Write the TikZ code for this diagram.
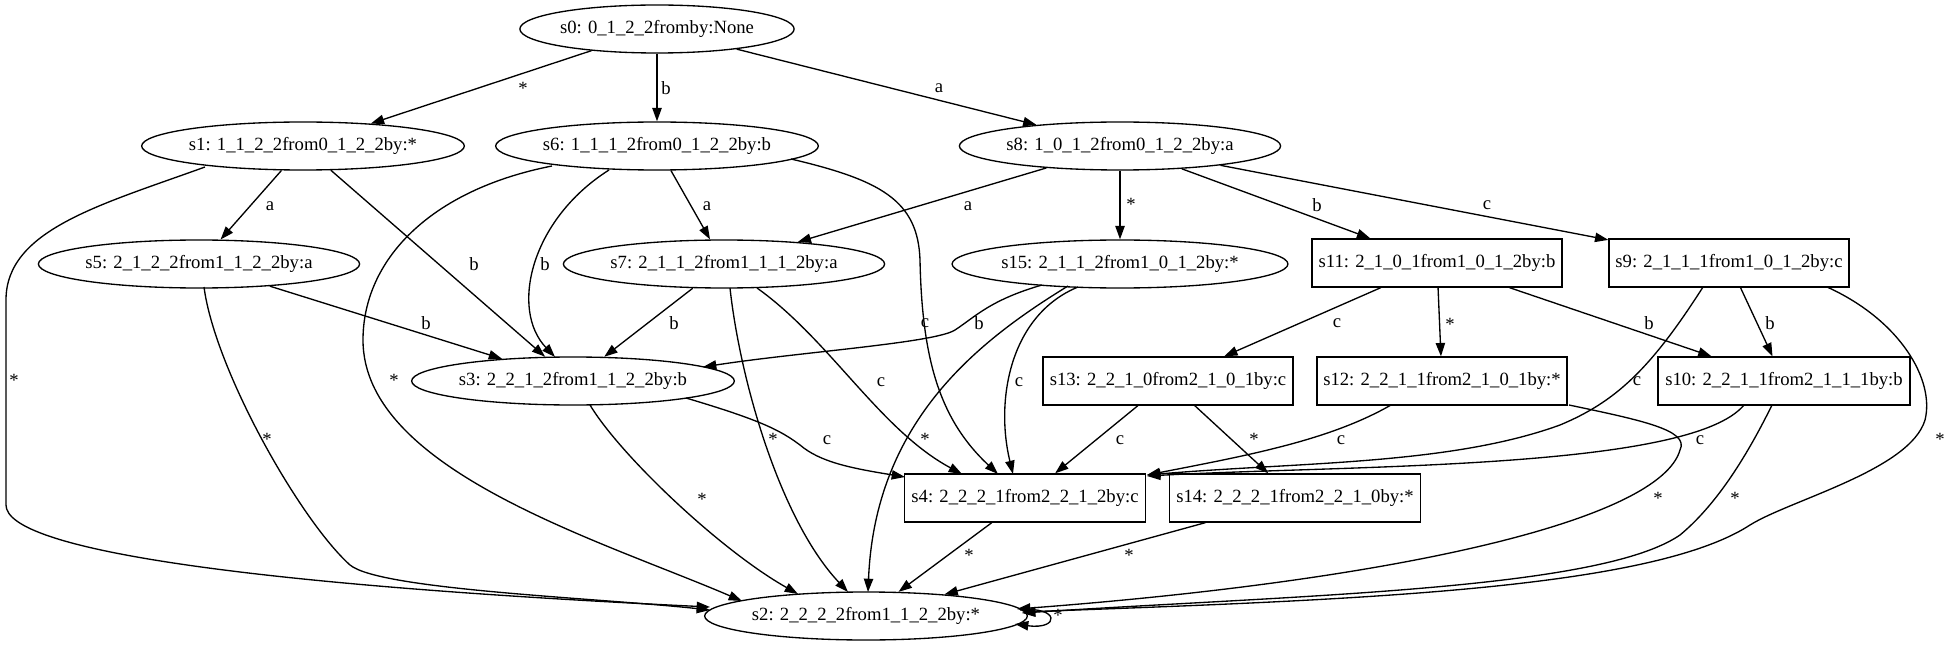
\documentclass[tikz,border=0pt]{standalone}
\usepackage{fontspec}
\setmainfont{Liberation Serif}
\usetikzlibrary{shapes.geometric,arrows.meta}
\begin{document}
\begin{tikzpicture}[x=0.75pt,y=-0.75pt,
  every node/.style={font=\fontsize{14pt}{16pt}\selectfont},
  ell/.style={draw,ellipse,inner sep=0pt,minimum height=36pt,minimum width=235.5pt,line width=1pt},
  box/.style={draw,rectangle,inner sep=0pt,minimum height=36pt,minimum width=187.5pt,line width=1pt},
  edge/.style={line width=1pt,-{Triangle[length=10pt,width=7pt]}},
  lbl/.style={inner sep=0pt},
  lst/.style={inner sep=0pt,yshift=-2pt}]
\useasboundingbox (0,0) rectangle (1955,645);
% nodes
\node[ell,minimum width=204pt] (s0) at (657,29) {s0: 0\_1\_2\_2fromby:None};
\node[ell] (s1) at (303,146) {s1: 1\_1\_2\_2from0\_1\_2\_2by:*};
\node[ell] (s6) at (657,146) {s6: 1\_1\_1\_2from0\_1\_2\_2by:b};
\node[ell] (s8) at (1120,146) {s8: 1\_0\_1\_2from0\_1\_2\_2by:a};
\node[ell] (s5) at (199,264) {s5: 2\_1\_2\_2from1\_1\_2\_2by:a};
\node[ell] (s7) at (724,264) {s7: 2\_1\_1\_2from1\_1\_1\_2by:a};
\node[ell,minimum width=244.5pt] (s15) at (1120,264) {s15: 2\_1\_1\_2from1\_0\_1\_2by:*};
\node[box] (s11) at (1437,263) {s11: 2\_1\_0\_1from1\_0\_1\_2by:b};
\node[box,minimum width=180pt] (s9) at (1729,263) {s9: 2\_1\_1\_1from1\_0\_1\_2by:c};
\node[ell] (s3) at (573,381) {s3: 2\_2\_1\_2from1\_1\_2\_2by:b};
\node[box] (s13) at (1168,381) {s13: 2\_2\_1\_0from2\_1\_0\_1by:c};
\node[box] (s12) at (1442,381) {s12: 2\_2\_1\_1from2\_1\_0\_1by:*};
\node[box,minimum width=189pt] (s10) at (1784,381) {s10: 2\_2\_1\_1from2\_1\_1\_1by:b};
\node[box,minimum width=180.75pt] (s4) at (1025,498) {s4: 2\_2\_2\_1from2\_2\_1\_2by:c};
\node[box,minimum width=188.25pt] (s14) at (1295,498) {s14: 2\_2\_2\_1from2\_2\_1\_0by:*};
\node[ell] (s2) at (866,616) {s2: 2\_2\_2\_2from1\_1\_2\_2by:*};
% straight edges
\draw[edge] (s0) -- (s1);
\draw[edge] (s0) -- (s6);
\draw[edge] (s0) -- (s8);
\draw[edge] (s1) -- (s5);
\draw[edge] (s1) -- (s3);
\draw[edge] (s6) -- (s7);
\draw[edge] (s8) -- (s7);
\draw[edge] (s8) -- (s15);
\draw[edge] (s8) -- (s11);
\draw[edge] (s8) -- (s9);
\draw[edge] (s5) -- (s3);
\draw[edge] (s7) -- (s3);
\draw[edge] (s11) -- (s13);
\draw[edge] (s11) -- (s12);
\draw[edge] (s11) -- (s10);
\draw[edge] (s9) -- (s10);
\draw[edge] (s13) -- (s4);
\draw[edge] (s13) -- (s14);
\draw[edge] (s4) -- (s2);
\draw[edge] (s14) -- (s2);
% curved edges
\draw[edge] ([shift={(6,24)}]s7.center) .. controls (740,380) and (780,520) .. ([shift={(-18,-24)}]s2.center);
\draw[edge] ([shift={(-98,21)}]s1.center) .. controls (100,205) and (6,230) .. (6,300) -- (6,505) .. controls (6,550) and (250,585) .. ([shift={(-156,-9)}]s2.center);
\draw[edge] ([shift={(-48,24)}]s6.center) .. controls (530,220) and (510,310) .. ([shift={(-18,-24)}]s3.center);
\draw[edge] ([shift={(-105,20)}]s6.center) .. controls (430,190) and (363,260) .. (363,340) .. controls (363,470) and (600,540) .. ([shift={(-124,-15)}]s2.center);
\draw[edge] ([shift={(134,13)}]s6.center) .. controls (880,180) and (918,200) .. (920,260) .. controls (922,360) and (940,420) .. ([shift={(-27,-24)}]s4.center);
\draw[edge] ([shift={(5,23)}]s5.center) .. controls (215,370) and (300,520) .. (350,565) .. controls (380,590) and (600,598) .. ([shift={(-156,-6)}]s2.center);
\draw[edge] ([shift={(33,24)}]s7.center) .. controls (830,340) and (880,430) .. ([shift={(-63,-24)}]s4.center);
\draw[edge] ([shift={(-78,21)}]s15.center) .. controls (990,300) and (975,317) .. (955,330) .. controls (935,343) and (800,352) .. ([shift={(130,-14)}]s3.center);
\draw[edge] ([shift={(-52,22)}]s15.center) .. controls (980,340) and (875,420) .. ([shift={(2,-24)}]s2.center);
\draw[edge] ([shift={(-42,23)}]s15.center) .. controls (1010,315) and (995,400) .. ([shift={(-12,-24)}]s4.center);
\draw[edge] ([shift={(113,17)}]s3.center) .. controls (760,420) and (780,430) .. (800,445) .. controls (820,462) and (850,468) .. ([shift={(-120,-21)}]s4.center);
\draw[edge] ([shift={(17,24)}]s3.center) .. controls (620,455) and (720,550) .. ([shift={(-68,-22)}]s2.center);
\draw[edge] ([shift={(-26,24)}]s9.center) .. controls (1650,370) and (1615,402) .. (1560,425) .. controls (1450,465) and (1300,462) .. ([shift={(122,-23)}]s4.center);
\draw[edge] ([shift={(-51,24)}]s12.center) .. controls (1330,440) and (1250,455) .. ([shift={(122,-23)}]s4.center);
\draw[edge] ([shift={(-40,24)}]s10.center) .. controls (1690,470) and (1350,465) .. ([shift={(122,-22)}]s4.center);
\draw[edge] ([shift={(127,24)}]s12.center) .. controls (1640,420) and (1690,430) .. (1680,450) .. controls (1660,520) and (1400,580) .. ([shift={(151,-7)}]s2.center);
\draw[edge] ([shift={(-12,24)}]s10.center) .. controls (1740,470) and (1710,510) .. (1680,535) .. controls (1600,590) and (1300,595) .. ([shift={(156,-3)}]s2.center);
\draw[edge] ([shift={(98,24)}]s9.center) .. controls (1900,320) and (1935,380) .. (1925,420) .. controls (1910,470) and (1790,500) .. (1750,525) .. controls (1650,590) and (1350,600) .. ([shift={(156,-4)}]s2.center);
\draw[edge] ([shift={(154,-6)}]s2.center) .. controls (1060,606) and (1060,630) .. ([shift={(149,8)}]s2.center);
% edge labels
\node[lst] (l01) at (523,86) {*};
\node[lbl] (l06) at (666,88) {b};
\node[lbl] (l08) at (939,88) {a};
\node[lbl] (l15) at (270,206) {a};
\node[lbl] (l13) at (474,264) {b};
\node[lst] (l12) at (14,378) {*};
\node[lbl] (l67) at (707,206) {a};
\node[lbl] (l63) at (545,264) {b};
\node[lst] (l62) at (394,378) {*};
\node[lbl] (l64) at (925,323) {c};
\node[lbl] (l87) at (968,206) {a};
\node[lst] (l815) at (1131,202) {*};
\node[lbl] (l811) at (1317,205) {b};
\node[lbl] (l89) at (1487,205) {c};
\node[lbl] (l53) at (426,323) {b};
\node[lst] (l52) at (267,437) {*};
\node[lbl] (l73) at (674,323) {b};
\node[lst] (l72) at (773,437) {*};
\node[lbl] (l74) at (881,382) {c};
\node[lbl] (l153) at (979,323) {b};
\node[lst] (l152) at (925,437) {*};
\node[lbl] (l154) at (1019,382) {c};
\node[lbl] (l34) at (827,440) {c};
\node[lst] (l32) at (702,497) {*};
\node[lst] (l42) at (969,553) {*};
\node[lst] (l142) at (1129,553) {*};
\node[lbl] (l1113) at (1337,323) {c};
\node[lst] (l1112) at (1450,322) {*};
\node[lbl] (l1110) at (1649,323) {b};
\node[lbl] (l910) at (1770,323) {b};
\node[lbl] (l94) at (1637,381) {c};
\node[lst] (l92) at (1940,437) {*};
\node[lbl] (l124) at (1341,440) {c};
\node[lst] (l122) at (1658,496) {*};
\node[lbl] (l104) at (1700,440) {c};
\node[lst] (l102) at (1735,496) {*};
\node[lbl] (l134) at (1120,440) {c};
\node[lst] (l1314) at (1254,437) {*};
\node[lst] (l22) at (1058,613) {*};
\end{tikzpicture}
\end{document}
